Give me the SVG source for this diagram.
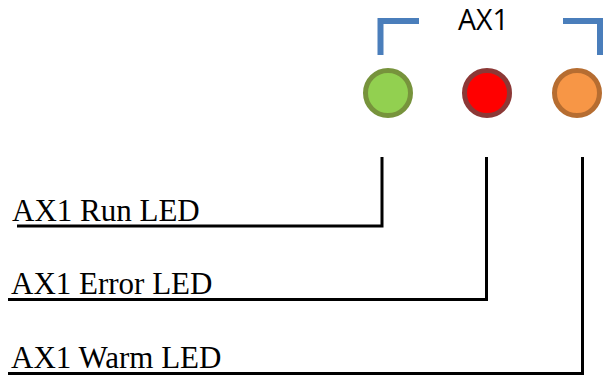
<svg xmlns="http://www.w3.org/2000/svg" width="603" height="376" viewBox="0 0 603 376">
<style>
.lbl{font-family:"Liberation Serif","Times New Roman",serif;font-size:31px;fill:#000}
.top{font-family:"Open Sans","Liberation Sans",sans-serif;font-size:28.5px;fill:#000}
.br{fill:none;stroke:#4A7EBB;stroke-width:6}
.led{stroke-width:5}
.conn{fill:none;stroke:#000;stroke-width:3;stroke-linejoin:miter}
</style>
<rect width="603" height="376" fill="#fff"/>
<g id="bracket">
<path class="br" d="M380.5,55 V21 H419"/>
<path class="br" d="M563,21 H600 V55"/>
<text class="top" x="458" y="30">AX1</text>
</g>
<g id="led-run"><circle class="led" cx="388" cy="93" r="22.5" fill="#92D050" stroke="#77933C"/></g>
<g id="led-error"><circle class="led" cx="487" cy="93" r="22.5" fill="#FF0000" stroke="#8C3836"/></g>
<g id="led-warm"><circle class="led" cx="577" cy="93" r="22.5" fill="#F79646" stroke="#B66D31"/></g>
<g id="label-run"><text class="lbl" x="12" y="221">AX1 Run LED</text></g>
<g id="label-error"><text class="lbl" x="11" y="294">AX1 Error LED</text></g>
<g id="label-warm"><text class="lbl" x="11" y="368">AX1 Warm LED</text></g>
<g id="connectors">
<path class="conn" d="M382,157 V226 H17"/>
<path class="conn" d="M486.5,157 V299.5 H8"/>
<path class="conn" d="M582.5,157 V373.5 H8"/>
</g>
</svg>
